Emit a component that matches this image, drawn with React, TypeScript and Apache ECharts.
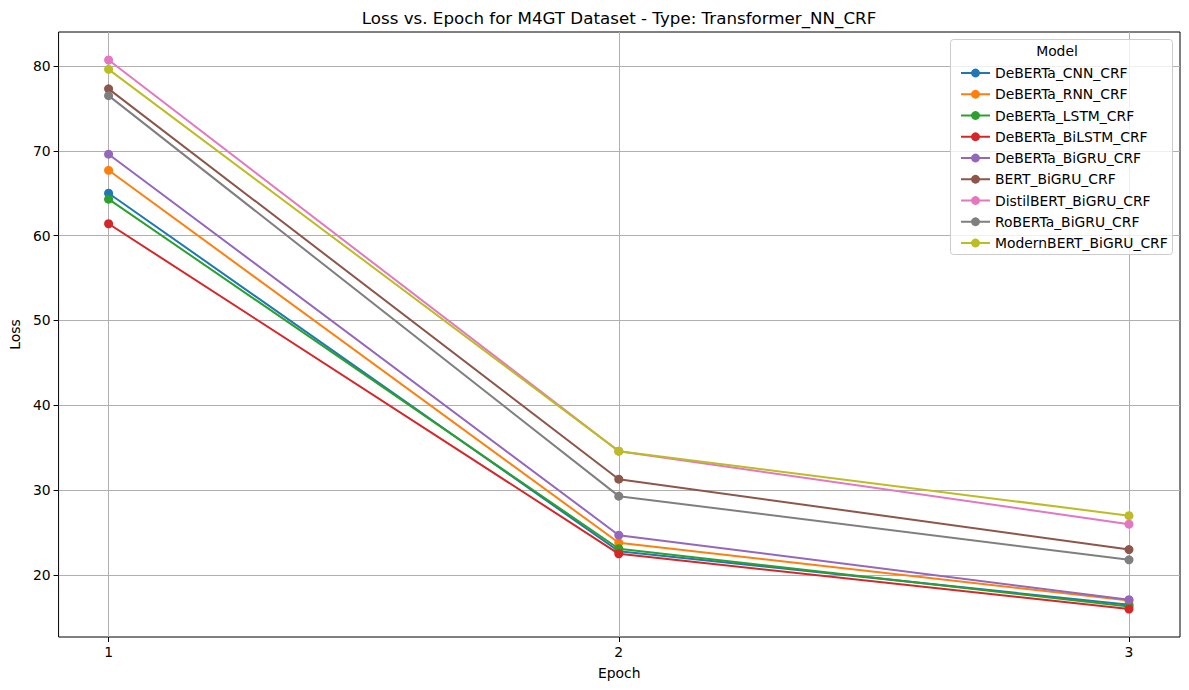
import React, { useEffect, useRef } from "react";
import * as echarts from "echarts";

const epochs = [1, 2, 3];
const models = [
  "DeBERTa_CNN_CRF",
  "DeBERTa_RNN_CRF",
  "DeBERTa_LSTM_CRF",
  "DeBERTa_BiLSTM_CRF",
  "DeBERTa_BiGRU_CRF",
  "BERT_BiGRU_CRF",
  "DistilBERT_BiGRU_CRF",
  "RoBERTa_BiGRU_CRF",
  "ModernBERT_BiGRU_CRF",
];
const debertaCnn = [65.0, 22.8, 16.5];
const debertaRnn = [67.7, 23.8, 17.0];
const debertaLstm = [64.3, 23.1, 16.3];
const debertaBilstm = [61.4, 22.5, 16.0];
const debertaBigru = [69.6, 24.7, 17.1];
const bertBigru = [77.3, 31.3, 23.0];
const distilbertBigru = [80.7, 34.6, 26.0];
const robertaBigru = [76.5, 29.3, 21.8];
const modernbertBigru = [79.6, 34.6, 27.0];
const seriesValues = [
  debertaCnn,
  debertaRnn,
  debertaLstm,
  debertaBilstm,
  debertaBigru,
  bertBigru,
  distilbertBigru,
  robertaBigru,
  modernbertBigru,
];
const yTicks = [20, 30, 40, 50, 60, 70, 80];
const xTicks = [1, 2, 3];

const colors = [
  "#1f77b4",
  "#ff7f0e",
  "#2ca02c",
  "#d62728",
  "#9467bd",
  "#8c564b",
  "#e377c2",
  "#7f7f7f",
  "#bcbd22",
];

const FONT = "DejaVu Sans";
const FS = 13.9;

export default function App() {
  const ref = useRef<HTMLDivElement>(null);
  useEffect(() => {
    document.body.style.margin = "0";
    const chart = echarts.init(ref.current!, null, { renderer: "svg" });
    const option: any = {
      animation: false,
      textStyle: { fontFamily: FONT },
      grid: {
        left: 58,
        right: 9,
        top: 32,
        bottom: 53,
        show: true,
        borderColor: "#000",
        borderWidth: 1,
        backgroundColor: "#fff",
      },
      xAxis: {
        type: "value",
        min: 0.902,
        max: 3.1,
        name: "Epoch",
        nameLocation: "middle",
        nameGap: 29,
        nameTextStyle: { fontSize: FS, color: "#000", fontFamily: FONT },
        axisLine: { show: false },
        axisTick: {
          show: true,
          length: 5,
          lineStyle: { color: "#000" },
          customValues: xTicks,
        },
        axisLabel: {
          color: "#000",
          fontSize: FS,
          fontFamily: FONT,
          margin: 8,
          customValues: xTicks,
        },
        splitLine: { show: true, lineStyle: { color: "#b0b0b0", width: 1 } },
      },
      yAxis: {
        type: "value",
        min: 12.7,
        max: 84.0,
        name: "Loss",
        nameLocation: "middle",
        nameGap: 35,
        nameTextStyle: { fontSize: FS, color: "#000", fontFamily: FONT },
        axisLine: { show: false },
        axisTick: {
          show: true,
          length: 5,
          lineStyle: { color: "#000" },
          customValues: yTicks,
        },
        axisLabel: {
          color: "#000",
          fontSize: FS,
          fontFamily: FONT,
          margin: 8,
          customValues: yTicks,
        },
        splitLine: { show: true, lineStyle: { color: "#b0b0b0", width: 1 } },
      },
      legend: {
        orient: "vertical",
        left: 955,
        top: 61,
        itemWidth: 29,
        itemHeight: 11,
        itemGap: 7.25,
        data: models,
        textStyle: {
          fontSize: FS,
          color: "#000",
          fontFamily: FONT,
        },
        z: 10,
      },
      graphic: [
        {
          type: "text",
          x: 619,
          y: 18,
          style: {
            text: "Loss vs. Epoch for M4GT Dataset - Type: Transformer_NN_CRF",
            fontSize: 16.7,
            fontFamily: FONT,
            fill: "#000",
            textAlign: "center",
            textVerticalAlign: "middle",
          },
        },
        {
          type: "rect",
          z: 5,
          shape: { x: 950.5, y: 39.5, width: 222, height: 215, r: 3 },
          style: { fill: "rgba(255,255,255,0.8)", stroke: "#cccccc", lineWidth: 1 },
        },
        {
          type: "text",
          z: 6,
          x: 1057,
          y: 51,
          style: {
            text: "Model",
            fontSize: FS,
            fontFamily: FONT,
            fill: "#000",
            textAlign: "center",
            textVerticalAlign: "middle",
          },
        },
      ],
      series: models.map((name, i) => ({
        name,
        type: "line",
        data: epochs.map((e, j) => [e, seriesValues[i][j]]),
        symbol: "circle",
        symbolSize: 9,
        showSymbol: true,
        color: colors[i],
        lineStyle: { width: 2, color: colors[i] },
        itemStyle: { color: colors[i] },
        z: 2 + i * 0.01,
      })),
    };
    chart.setOption(option);
    return () => chart.dispose();
  }, []);
  return <div ref={ref} style={{ width: 1189, height: 690 }} />;
}
